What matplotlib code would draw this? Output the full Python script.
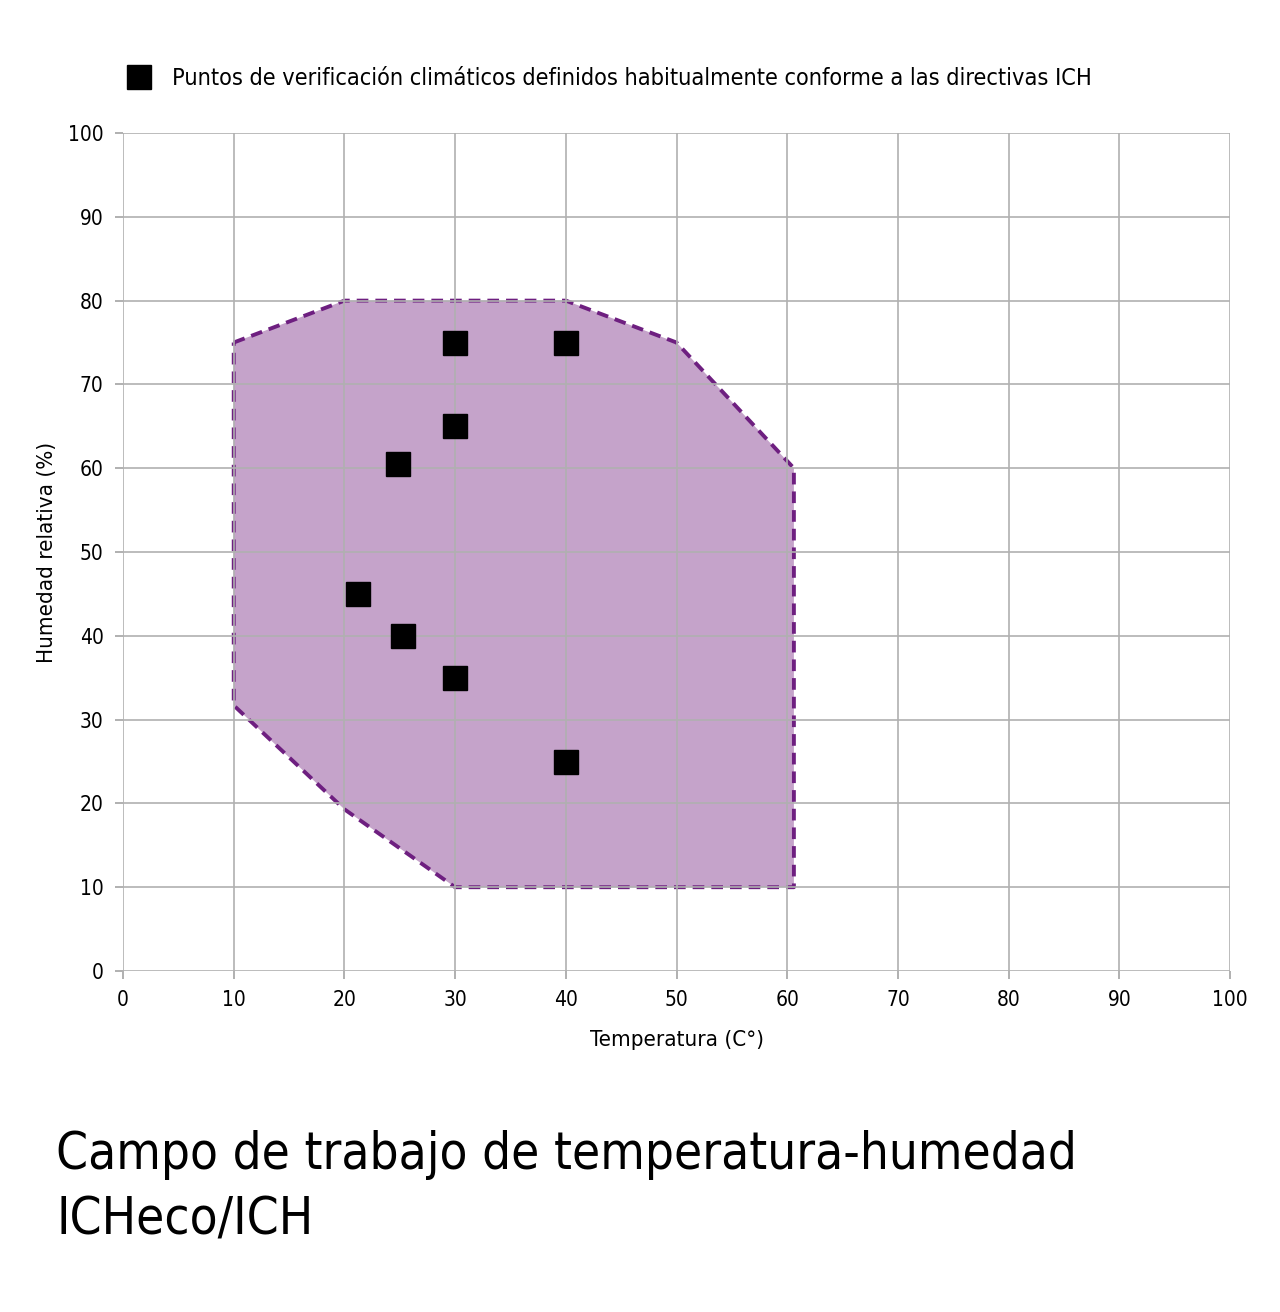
import matplotlib
matplotlib.use('Agg')
import matplotlib.pyplot as plt
from matplotlib.patches import Polygon
from matplotlib import font_manager

# pick a narrow face if there is one installed
names = sorted({(f.name, f.stretch, f.fname) for f in font_manager.fontManager.ttflist})
narrow = [n for n in names if 'ondensed' in n[2] or 'arrow' in n[2] or n[1] not in ('normal', 500, 'medium')]
fam = ['DejaVu Sans']
for n in narrow:
    if 'DejaVu' in n[0] or 'Liberation' in n[0]:
        fam = [n[0], 'DejaVu Sans']
        break
plt.rcParams['font.family'] = fam
plt.rcParams['font.stretch'] = 'condensed'

# working field outline (temperature, humidity)
field_temp = [10, 20, 40, 50, 60.6, 60.6, 30, 20, 10]
field_hum = [75, 80, 80, 75, 60, 10, 10, 19.3, 31.7]

# ICH check points
pts_temp = [30, 40, 30, 24.8, 21.2, 25.3, 30, 40]
pts_hum = [75, 75, 65, 60.5, 45, 40, 35, 25]

ticks = list(range(0, 101, 10))

fig = plt.figure(figsize=(12.8, 13.12), dpi=100)
ax = fig.add_axes([0.0961, 0.2599, 0.8649, 0.6387])

poly = Polygon(list(zip(field_temp, field_hum)), closed=True,
               facecolor='#c5a3ca', edgecolor='#6e1f80', linestyle=(0, (3, 1.8)),
               linewidth=2.8, joinstyle='round', zorder=1)
ax.add_patch(poly)

ax.plot(pts_temp, pts_hum, linestyle='none', marker='s', markersize=17,
        color='black', zorder=4,
        label='Puntos de verificación climáticos definidos habitualmente conforme a las directivas ICH')

ax.set_xlim(0, 100)
ax.set_ylim(0, 100)
ax.set_xticks(ticks)
ax.set_yticks(ticks)
ax.set_axisbelow(False)
ax.grid(True, color='#b0b0b0', linewidth=1.4, alpha=0.85, zorder=2)
for s in ax.spines.values():
    s.set_visible(False)
ax.tick_params(length=6, width=1.4, color='#b0b0b0', labelsize=15, pad=8)

ax.set_xlabel('Temperatura (C°)', fontsize=16, labelpad=14)
ax.set_ylabel('Humedad relativa (%)', fontsize=16, labelpad=8)

ax.legend(loc='lower left', bbox_to_anchor=(-0.015, 1.04), frameon=False,
          fontsize=16.8, handletextpad=0.4, borderaxespad=0)

fig.text(0.044, 0.139, 'Campo de trabajo de temperatura-humedad\nICHeco/ICH',
         fontsize=36.7, ha='left', va='top', linespacing=1.4)

fig.savefig('out.png', dpi=100, facecolor='white')
